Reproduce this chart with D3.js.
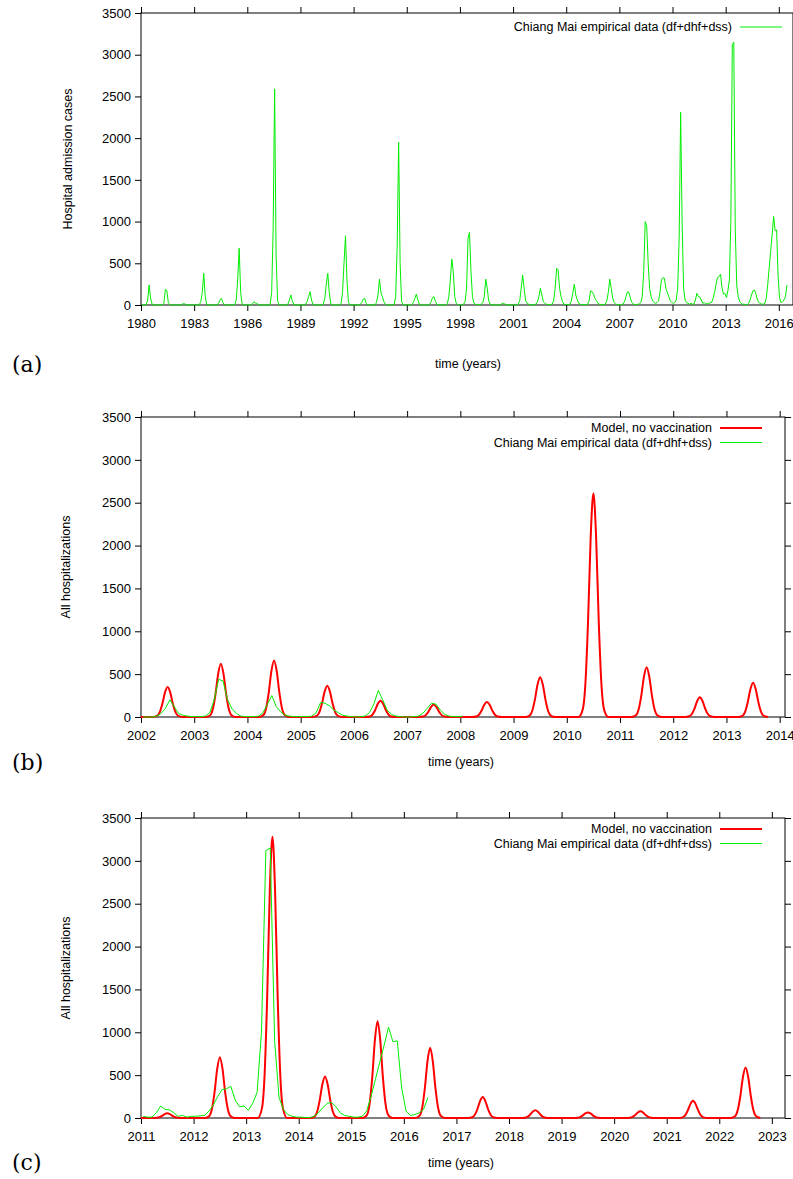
<!DOCTYPE html>
<html>
<head>
<meta charset="utf-8">
<script src="https://cdn.jsdelivr.net/npm/d3@7"></script>
<style>
body { margin: 0; background: #fff; }
text { font-family: "Liberation Sans", Arial, sans-serif; }
</style>
</head>
<body>
<svg width="793" height="1179"></svg>
<script>
// empirical monthly admissions, Chiang Mai (Jan..Dec), 1980 onwards
var empStart = 1980;
var empirical = [
  [0,0,0,5,60,240,80,10,0,0,0,0],
  [0,0,0,20,190,170,30,5,0,0,0,0],
  [0,0,0,5,15,15,5,0,0,0,0,0],
  [0,0,0,5,40,150,380,100,10,0,0,0],
  [0,0,0,5,20,60,80,30,5,0,0,0],
  [0,0,0,5,60,300,680,150,10,0,0,0],
  [0,0,5,15,40,25,20,5,0,0,0,0],
  [0,0,0,10,150,900,2590,600,50,5,0,0],
  [0,0,0,10,60,120,50,5,0,0,0,0],
  [0,0,0,10,40,100,160,60,5,0,0,0],
  [0,0,0,10,80,250,380,150,20,0,0,0],
  [0,0,0,20,150,500,830,300,30,5,0,0],
  [0,0,0,0,10,30,70,80,20,0,0,0],
  [0,0,0,30,120,310,150,100,40,10,0,0],
  [0,0,0,10,100,700,1950,500,40,5,0,0],
  [0,0,0,5,30,80,130,60,10,0,0,0],
  [0,0,0,10,40,90,100,40,5,0,0,0],
  [0,0,0,20,100,300,550,400,100,20,5,0],
  [0,0,10,40,200,800,870,400,100,20,10,5],
  [5,5,10,30,100,310,200,50,10,5,0,0],
  [0,0,0,5,15,20,10,5,0,0,0,0],
  [0,0,0,10,50,200,360,200,50,20,10,5],
  [0,0,0,10,40,100,200,120,40,20,10,5],
  [5,5,10,50,200,440,420,200,100,40,10,5],
  [5,5,10,50,150,250,120,60,20,10,5,5],
  [5,5,10,50,170,160,130,80,50,20,10,5],
  [0,5,10,50,150,310,200,80,30,10,5,0],
  [0,5,10,40,100,160,150,80,30,10,5,5],
  [10,10,30,100,400,1000,950,500,200,100,50,30],
  [20,30,50,150,300,330,320,200,150,100,50,30],
  [20,30,60,200,800,2310,1000,200,60,30,20,10],
  [20,10,10,60,140,100,95,60,20,30,10,20],
  [20,25,30,80,150,250,330,340,370,210,130,140],
  [90,170,300,1000,3120,3150,900,240,100,40,20,10],
  [10,5,5,20,60,120,170,180,130,60,30,20],
  [10,10,20,80,250,450,650,850,1060,890,900,350],
  [80,30,40,60,100,240]
];

// model output around each yearly peak, at year + 0.3 .. 0.7
var peakOffsets = [0.3,0.35,0.4,0.45,0.5,0.55,0.6,0.65,0.7];
var modelBStart = 2002;
var modelB = [
  [12,53,151,284,350,284,151,53,12],
  [21,93,267,502,620,502,267,93,21],
  [22,99,284,535,660,535,284,99,22],
  [12,55,157,296,365,296,157,55,12],
  [6,29,82,154,190,154,82,29,6],
  [5,22,62,117,145,117,62,22,5],
  [6,26,75,142,175,142,75,26,6],
  [16,70,200,377,465,377,200,70,16],
  [89,392,1122,2114,2610,2114,1122,392,89],
  [20,87,249,470,580,470,249,87,20],
  [8,35,99,186,230,186,99,35,8],
  [14,60,172,324,400,324,172,60,14]
];
var modelCStart = 2011;
var modelC = [
  [2,8,24,45,55,45,24,8,2],
  [24,107,305,575,710,575,305,107,24],
  [112,492,1410,2657,3280,2657,1410,492,112],
  [16,73,209,393,485,393,209,73,16],
  [38,170,486,915,1130,915,486,170,38],
  [28,123,353,664,820,664,353,123,28],
  [8,37,105,198,245,198,105,37,8],
  [3,14,39,73,90,73,39,14,3],
  [2,10,28,53,65,53,28,10,2],
  [3,12,34,65,80,65,34,12,3],
  [7,30,86,162,200,162,86,30,7],
  [20,89,254,478,590,478,254,89,20]
];

var yTicks = [0,500,1000,1500,2000,2500,3000,3500];
var ticksA = d3.range(1980, 2017, 3);
var ticksB = d3.range(2002, 2015);
var ticksC = d3.range(2011, 2024);

var empPoints = [];
empirical.forEach((row, i) => row.forEach((v, m) => empPoints.push([empStart + i + (m + 0.5)/12, v])));

function modelPoints(start, rows) {
  var pts = [];
  rows.forEach((row, i) => {
    var y = start + i;
    pts.push([y, 0], [y + 0.22, 0]);
    row.forEach((v, k) => pts.push([y + peakOffsets[k], v]));
    pts.push([y + 0.78, 0]);
  });
  return pts;
}

var svg = d3.select('svg');

function panel(o) {
  var x = d3.scaleLinear().domain(o.xdom).range([141, o.right]);
  var y = d3.scaleLinear().domain([0, 3500]).range([o.bottom, o.top]);
  var g = svg.append('g');
  g.append('rect').attr('x', 141).attr('y', o.top).attr('width', o.right - 141)
    .attr('height', o.bottom - o.top).attr('fill', 'none').attr('stroke', '#000');
  var fs = '13px';
  g.append('g').attr('transform', `translate(0,${o.bottom})`)
    .call(d3.axisBottom(x).tickValues(o.xticks).tickFormat(d3.format('d')).tickSize(6).tickPadding(8))
    .call(a => a.select('.domain').remove()).selectAll('text').style('font-size', fs);
  g.append('g').attr('transform', `translate(0,${o.top})`)
    .call(d3.axisTop(x).tickValues(o.xticks).tickFormat('').tickSize(6))
    .call(a => a.select('.domain').remove());
  g.append('g').attr('transform', 'translate(141,0)')
    .call(d3.axisLeft(y).tickValues(yTicks).tickFormat(d3.format('d')).tickSize(6).tickPadding(4))
    .call(a => a.select('.domain').remove()).selectAll('text').style('font-size', fs);
  g.append('g').attr('transform', `translate(${o.right},0)`)
    .call(d3.axisRight(y).tickValues(yTicks).tickFormat('').tickSize(6))
    .call(a => a.select('.domain').remove());

  var clip = 'clip' + o.name;
  svg.append('clipPath').attr('id', clip).append('rect')
    .attr('x', 141).attr('y', o.top).attr('width', o.right - 141).attr('height', o.bottom - o.top + 1);
  var line = d3.line().x(d => x(d[0])).y(d => y(d[1]));
  var mline = d3.line().x(d => x(d[0])).y(d => y(d[1])).curve(d3.curveMonotoneX);
  if (o.model) {
    g.append('path').attr('clip-path', `url(#${clip})`).attr('d', mline(o.model))
      .attr('fill', 'none').attr('stroke', '#ff0000').attr('stroke-width', 2);
  }
  g.append('path').attr('clip-path', `url(#${clip})`).attr('d', line(o.emp))
    .attr('fill', 'none').attr('stroke', '#00ee00').attr('stroke-width', 1);

  // legend
  o.legend.forEach((l, i) => {
    var ly = o.legY + i * 14.5;
    g.append('text').attr('x', o.legX).attr('y', ly + 4).attr('text-anchor', 'end')
      .style('font-size', '12.5px').text(l.label);
    g.append('line').attr('x1', o.legX + 8).attr('x2', o.legX + 50).attr('y1', ly).attr('y2', ly)
      .attr('stroke', l.color).attr('stroke-width', l.w);
  });

  g.append('text').attr('transform', `translate(${o.ylabX},${(o.top + o.bottom)/2}) rotate(-90)`)
    .attr('text-anchor', 'middle').style('font-size', '12.5px').text(o.ylab);
  g.append('text').attr('x', o.xlabX).attr('y', o.xlabY).attr('text-anchor', 'middle')
    .style('font-size', '12.5px').text('time (years)');
  g.append('text').attr('x', 12).attr('y', o.tagY).style('font-family', 'DejaVu Serif, serif')
    .style('font-size', '22px').text(o.tag);
}

panel({ name: 'a', xdom: [1980, 2016.8], right: 793, top: 13, bottom: 305, xticks: ticksA,
  emp: empPoints, ylab: 'Hospital admission cases', ylabX: 72, xlabX: 468, xlabY: 368, tagY: 372, tag: '(a)',
  legX: 732, legY: 27, legend: [{label: 'Chiang Mai empirical data (df+dhf+dss)', color: '#00ee00', w: 1}] });

panel({ name: 'b', xdom: [2002, 2014.1], right: 785, top: 417, bottom: 717, xticks: ticksB,
  emp: empPoints.filter(d => d[0] >= 2002 && d[0] <= 2008.05), model: modelPoints(modelBStart, modelB),
  ylab: 'All hospitalizations', ylabX: 70, xlabX: 461, xlabY: 766, tagY: 770, tag: '(b)',
  legX: 712, legY: 428, legend: [
    {label: 'Model, no vaccination', color: '#ff0000', w: 2},
    {label: 'Chiang Mai empirical data (df+dhf+dss)', color: '#00ee00', w: 1}] });

panel({ name: 'c', xdom: [2011, 2023.25], right: 785, top: 818, bottom: 1118, xticks: ticksC,
  emp: empPoints.filter(d => d[0] >= 2011), model: modelPoints(modelCStart, modelC),
  ylab: 'All hospitalizations', ylabX: 70, xlabX: 461, xlabY: 1167, tagY: 1170, tag: '(c)',
  legX: 712, legY: 829, legend: [
    {label: 'Model, no vaccination', color: '#ff0000', w: 2},
    {label: 'Chiang Mai empirical data (df+dhf+dss)', color: '#00ee00', w: 1}] });
</script>
</body>
</html>
